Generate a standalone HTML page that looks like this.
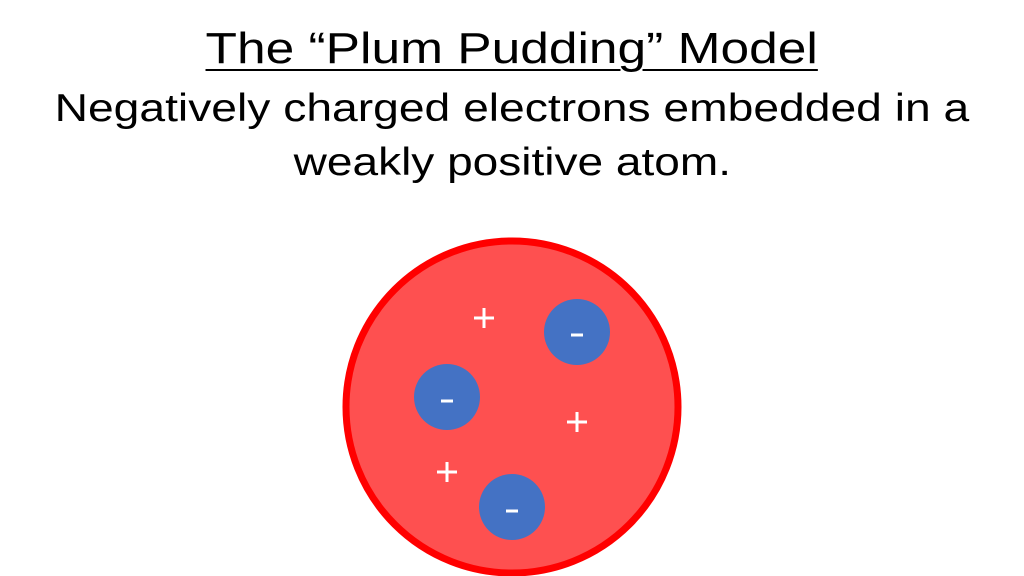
<!DOCTYPE html>
<html><head><style>
html,body{margin:0;padding:0;background:#fff;}
body{width:1024px;height:576px;position:relative;overflow:hidden;font-family:"Liberation Sans",sans-serif;color:#000;}
.t{position:absolute;left:0;width:1024px;text-align:center;}
.s{display:inline-block;transform-origin:center;}
</style></head><body>
<div class="t" style="top:21px;font-size:44px;line-height:56px;"><span class="s" style="transform:scaleX(1.17);text-decoration:underline;text-decoration-thickness:2px;text-underline-offset:6px;">The “Plum Pudding” Model</span></div>
<div class="t" style="top:82px;font-size:39px;line-height:54px;"><span class="s" style="transform:scaleX(1.185);">Negatively charged electrons embedded in a</span><br><span class="s" style="transform:scaleX(1.18);">weakly positive atom.</span></div>
<svg width="1024" height="576" style="position:absolute;left:0;top:0">
<circle cx="512" cy="407" r="166" fill="#fe5050" stroke="#ff0000" stroke-width="7"/>
<circle cx="577" cy="332" r="33" fill="#4472c4"/>
<circle cx="447" cy="397" r="33" fill="#4472c4"/>
<circle cx="512" cy="507" r="33" fill="#4472c4"/>
<g stroke="#fff" stroke-width="3">
<line x1="571" y1="335" x2="583" y2="335"/>
<line x1="441" y1="401" x2="453" y2="401"/>
<line x1="506" y1="511" x2="518" y2="511"/>
<line x1="474" y1="318" x2="494" y2="318"/><line x1="484" y1="308" x2="484" y2="328"/>
<line x1="567" y1="422" x2="587" y2="422"/><line x1="577" y1="412" x2="577" y2="432"/>
<line x1="437" y1="472" x2="457" y2="472"/><line x1="447" y1="462" x2="447" y2="482"/>
</g>
</svg>
</body></html>
